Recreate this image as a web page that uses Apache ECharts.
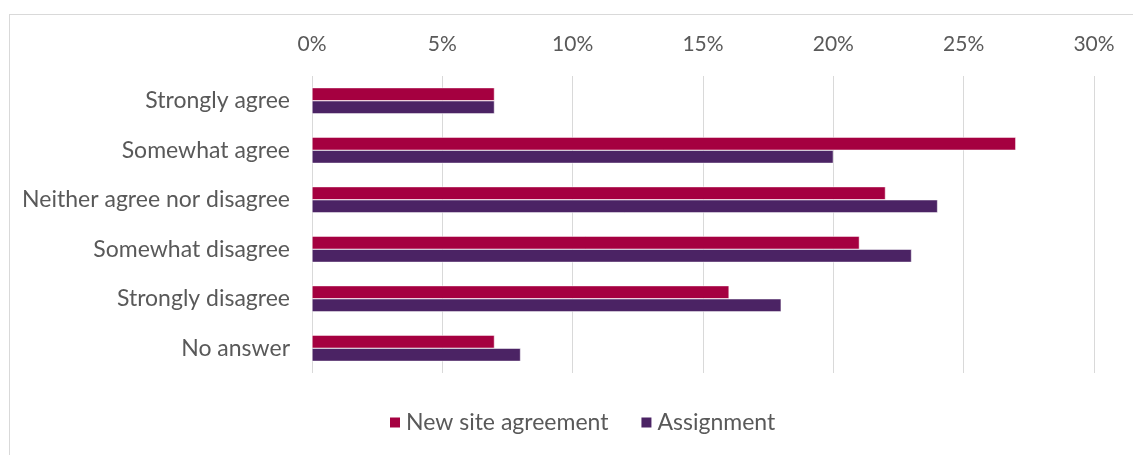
<!DOCTYPE html>
<html lang="en">
<head>
    <meta charset="UTF-8">
    <title>Agreement chart</title>
    <script src="https://cdn.jsdelivr.net/npm/echarts@6/dist/echarts.min.js"></script>
</head>
<body>
<style>
    html, body {
        margin: 0;
        height: 100%;
        width: 100%;
        background: #fff;
    }

    .frame {
        position: absolute;
        left: 9px;
        top: 14px;
        right: -10px;
        bottom: -10px;
        border-top: 1px solid #d9d9d9;
        border-left: 1px solid #d9d9d9;
    }

    #main {
        position: absolute;
        left: 0;
        top: 0;
        width: 1133px;
        height: 455px;
    }
</style>
<div class="frame"></div>
<div id="main"></div>
<script type="text/javascript">
    var categories = ['Strongly agree', 'Somewhat agree', 'Neither agree nor disagree', 'Somewhat disagree', 'Strongly disagree', 'No answer']
    var newSite = [7, 27, 22, 21, 16, 7]
    var assignment = [7, 20, 24, 23, 18, 8]
    var seriesNames = ['New site agreement', 'Assignment']

    var font = 'Lato'
    var myChart = echarts.init(document.getElementById('main'))

    var option = {
        animation: false,
        grid: {
            left: 312,
            right: 39,
            top: 76,
            bottom: 82,
            containLabel: false
        },
        legend: {
            data: seriesNames,
            bottom: 16,
            left: 383,
            itemWidth: 12,
            itemHeight: 12,
            itemGap: 31,
            icon: 'rect',
            textStyle: {color: '#595959', fontSize: 23, fontFamily: font}
        },
        xAxis: {
            type: 'value',
            position: 'top',
            min: 0,
            max: 30,
            interval: 5,
            axisLine: {show: false},
            axisTick: {show: false},
            axisLabel: {
                formatter: '{value}%',
                color: '#595959',
                fontSize: 21,
                fontFamily: font,
                margin: 21
            },
            splitLine: {lineStyle: {color: '#d9d9d9', width: 1}}
        },
        yAxis: {
            type: 'category',
            data: categories,
            inverse: true,
            axisLine: {show: false},
            axisTick: {show: false},
            axisLabel: {
                color: '#595959',
                fontSize: 23,
                fontFamily: font,
                margin: 22
            }
        },
        series: [
            {
                name: seriesNames[0],
                type: 'bar',
                data: newSite,
                barGap: '0%',
                barCategoryGap: '47%',
                itemStyle: {color: '#a50040', borderColor: '#fff', borderWidth: 0.5}
            },
            {
                name: seriesNames[1],
                type: 'bar',
                data: assignment,
                itemStyle: {color: '#4b2364', borderColor: '#fff', borderWidth: 0.5}
            }
        ]
    }
    myChart.setOption(option)
</script>
</body>
</html>
